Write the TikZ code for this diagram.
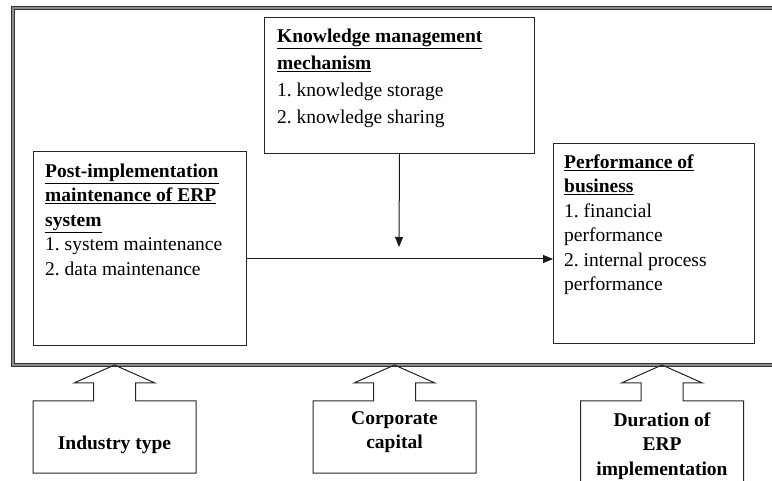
\documentclass[tikz,border=0pt]{standalone}
\usepackage{fontspec}
\setmainfont{Liberation Serif}
\usetikzlibrary{arrows.meta,positioning,calc}
\frenchspacing
\tikzset{
  box/.style={draw=black!85, line width=1pt, inner sep=0pt, anchor=north west},
  txt/.style={inner sep=0pt, anchor=north west, align=left,
    font=\fontsize{19.5}{24.5}\selectfont},
  btxt/.style={inner sep=0pt, align=center,
    font=\fontsize{19.5}{24.5}\selectfont\bfseries},
  link/.style={draw=black!90, line width=1pt, -{Triangle[length=10pt,width=8pt]}},
  frame/.style={draw=black!80, line width=1.3pt, double=black!45, double distance=1.8pt}
}
\begin{document}
\begin{tikzpicture}[x=1pt,y=-1pt]
\useasboundingbox (0,0) rectangle (772,481);
% outer frame
\draw[frame] (790,8) -- (13,8) -- (13,365) -- (790,365);
% boxes
\node[box, minimum width=270pt, minimum height=136pt] (km) at (264,17) {};
\node[box, minimum width=213pt, minimum height=194pt] (post) at (33,151) {};
\node[box, minimum width=201pt, minimum height=200pt] (perf) at (553,143) {};
\node[txt, font=\fontsize{19.5}{27}\selectfont] (kmtxt) at ([xshift=13pt,yshift=-12pt]km.north west)
  {\textbf{\underline{Knowledge management}}\\
   \textbf{\underline{mechanism}}\\
   1. knowledge storage\\
   2. knowledge sharing};
\node[txt] (posttxt) at ([xshift=12pt,yshift=-12.5pt]post.north west)
  {\textbf{\underline{Post-implementation}}\\
   \textbf{\underline{maintenance of ERP}}\\
   \textbf{\underline{system}}\\
   1. system maintenance\\
   2. data maintenance};
\node[txt] (perftxt) at ([xshift=11pt,yshift=-11.5pt]perf.north west)
  {\textbf{\underline{Performance of}}\\
   \textbf{\underline{business}}\\
   1. financial\\
   performance\\
   2. internal process\\
   performance};
% arrows
\coordinate (mid) at (0,259);
\coordinate (kmtip) at (399,247);
\draw[link] (km.south) -- (kmtip);
\draw[link] (post.east |- mid) -- (perf.west |- mid);
% moderators
\foreach \cx/\yb in {114.5/473, 394.5/473, 662/486}
  \draw[draw=black!85, line width=1pt] (\cx-81.5,\yb) -- (\cx-81.5,401) -- (\cx-21,401)
    -- (\cx-21,383) -- (\cx-40.5,383) -- (\cx,365) -- (\cx+40.5,383) -- (\cx+21,383)
    -- (\cx+21,401) -- (\cx+81.5,401) -- (\cx+81.5,\yb) -- cycle;
\node[btxt] (ind) at (114.5,445) {Industry type};
\node[btxt] (cap) at (394.5,432) {Corporate\\capital};
\node[btxt] (dur) at (662,446) {Duration of\\ERP\\implementation};
\end{tikzpicture}
\end{document}
